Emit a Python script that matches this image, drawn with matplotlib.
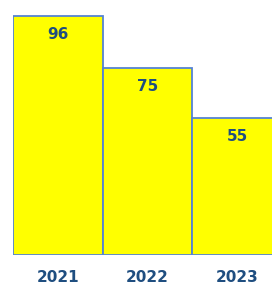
import matplotlib
matplotlib.use("Agg")
import matplotlib.pyplot as plt

years = ["2021", "2022", "2023"]
values = [96, 75, 55]

W, H = 272, 285
fig = plt.figure(figsize=(W/100, H/100), dpi=100)
ax = fig.add_axes([13/W, 30/H, 269/W, 249/H])
x = list(range(len(years)))
ax.bar(x, values, width=1.0, color="#FFFF00", edgecolor="#5583D3", linewidth=1.3, zorder=2)
ax.axhline(0, color="#D9D9D9", linewidth=1.5, zorder=1)
ax.set_xlim(-0.5, 2.5)
ax.set_ylim(0, 100)
txt_color = "#1F4E80"
for xi, v in zip(x, values):
    ax.text(xi, v - 7.4, str(v), ha="center", va="center", fontsize=11, fontweight="bold",
            color=txt_color, family="DejaVu Sans", zorder=3)
for xi, y in zip(x, years):
    ax.text(xi, -9.0, y, ha="center", va="center", fontsize=11, fontweight="bold",
            color=txt_color, family="DejaVu Sans", clip_on=False)
ax.axis("off")
fig.savefig("out.png", dpi=100)
